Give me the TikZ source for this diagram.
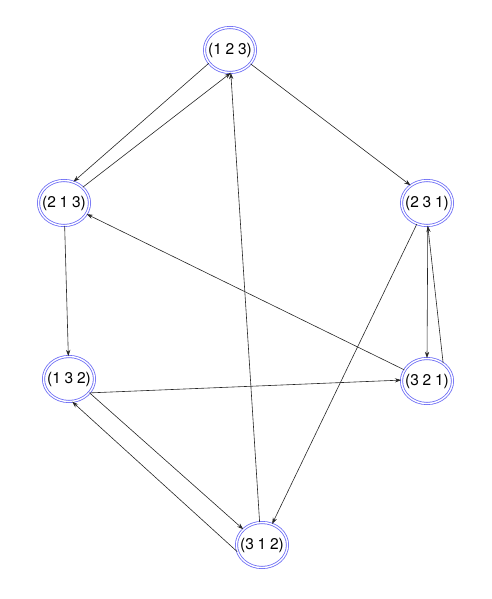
\documentclass[tikz,border=0pt]{standalone}
\usepackage{fontspec}
\setmainfont{TeX Gyre Heros}
\usetikzlibrary{arrows.meta,shapes.geometric}
\definecolor{gvblue}{HTML}{6A6AF5}
\newcommand{\permfont}{\fontsize{15.5}{18}\selectfont\spaceskip=0.24em plus 0pt\relax}
\tikzset{
  >={Stealth[length=2.2mm,width=1.5mm]},
  % permutationer
  pn/.style={ellipse,draw=gvblue,double=white,double distance=1.4pt,
             line width=0.8pt,inner xsep=-10pt,inner ysep=0pt,minimum width=51pt,
             minimum height=45pt,font=\permfont},
  pe/.style={->,draw=black!85,line width=0.6pt},
}
\begin{document}
\begin{tikzpicture}[x=1pt,y=-1pt]
\useasboundingbox (0,0) rectangle (491,599);
  \node[pn] (p123) at (230,50) {(1 2 3)};
  \node[pn] (p213) at (64,203) {(2 1 3)};
  \node[pn] (p231) at (427,203) {(2 3 1)};
  \node[pn] (p132) at (69,379) {(1 3 2)};
  \node[pn] (p321) at (427,381) {(3 2 1)};
  \node[pn] (p312) at (262,545) {(3 1 2)};
  \draw[pe] (p123.212) -- (p213.66);
  \draw[pe] (p213.40) -- (p123.272);
  \draw[pe] (p123.326) -- (p231.133);
  \draw[pe] (p213) -- (p132);
  \draw[pe] (p321) -- (p213);
  \draw[pe] (p231) -- (p312);
  \draw[pe] (p231.272) -- (p321.90);
  \draw[pe] (p321.48) -- (p231.272);
  \draw[pe] (p132.326) -- (p321.178);
  \draw[pe] (p132.326) -- (p312.140);
  \draw[pe] (p312.195) -- (p132.278);
  \draw[pe] (p312.96) -- (p123.272);
\end{tikzpicture}
\end{document}
